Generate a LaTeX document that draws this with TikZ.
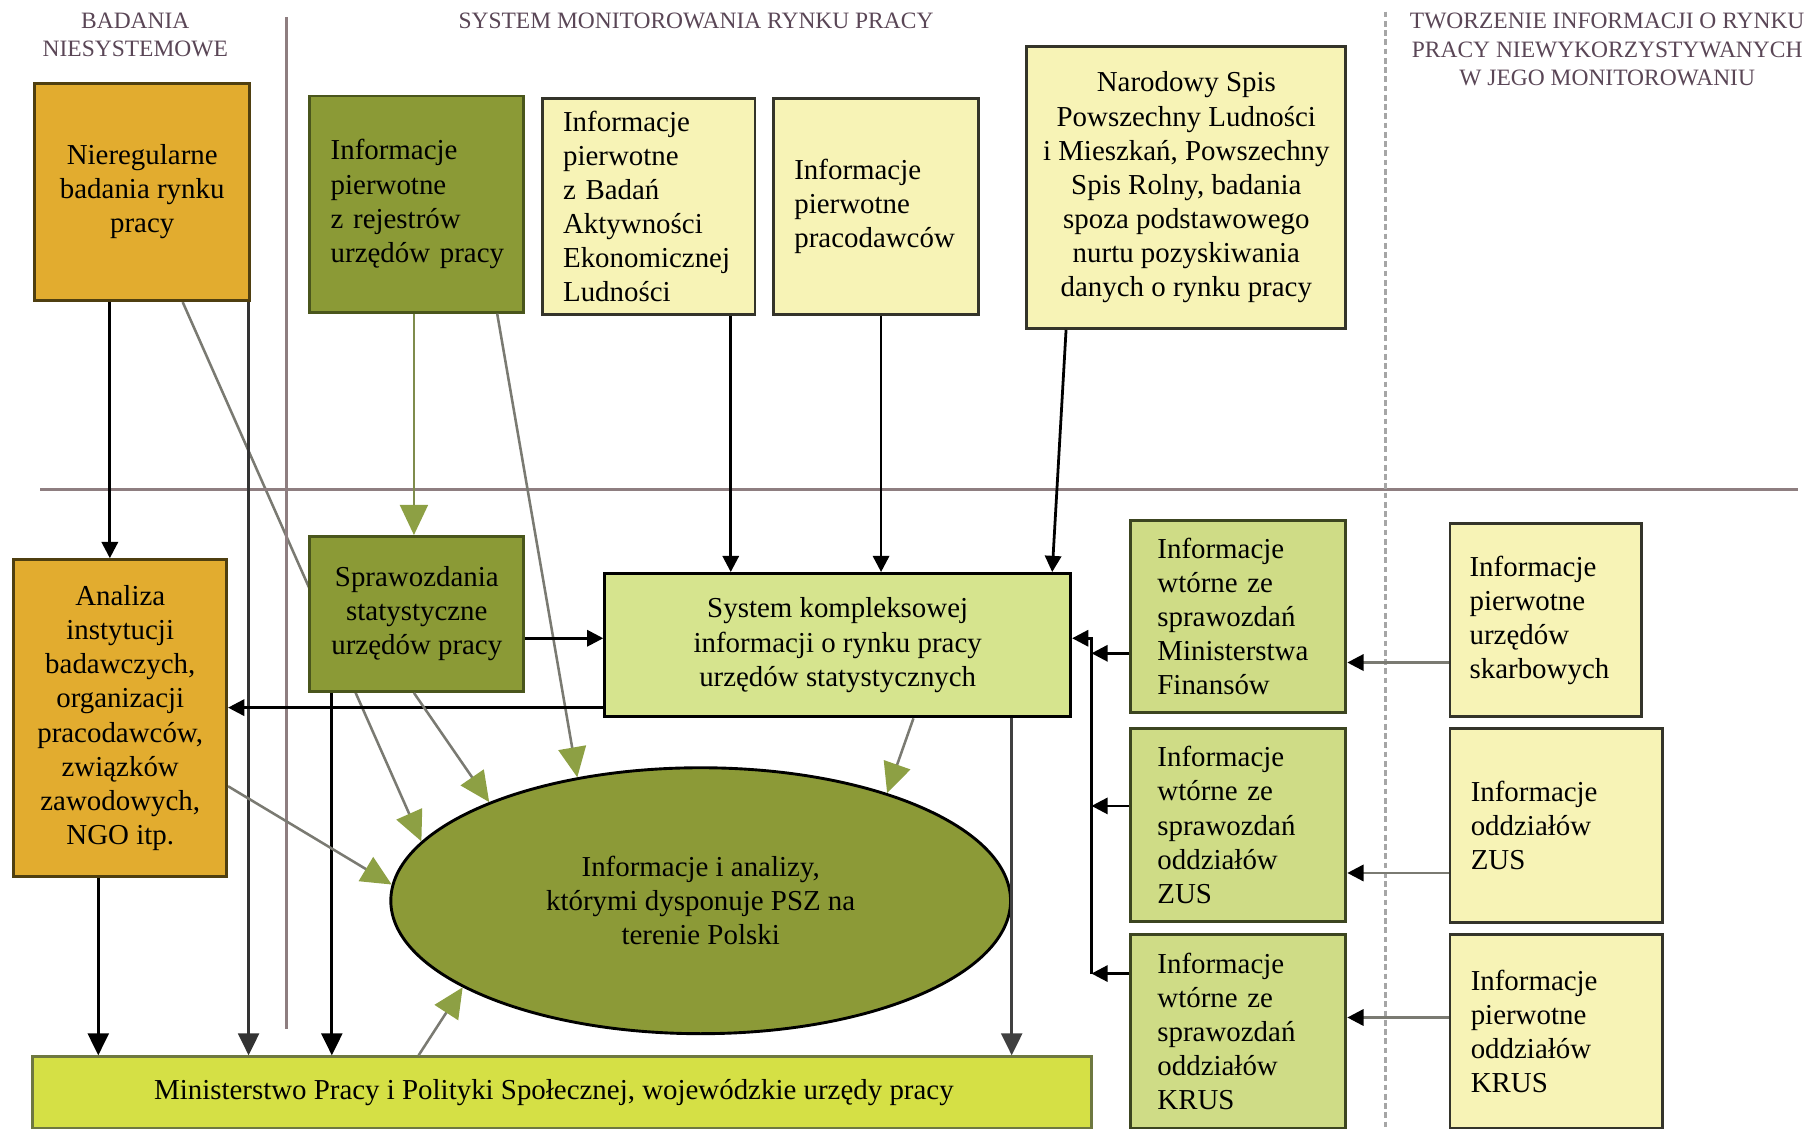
\documentclass[tikz,border=0pt]{standalone}
\usepackage{fontspec}
\setmainfont{Liberation Serif}
\usetikzlibrary{arrows.meta,shapes.geometric,backgrounds}
\definecolor{orangef}{HTML}{E2AC2F}
\definecolor{oranged}{HTML}{4F3F10}
\definecolor{olivef}{HTML}{8B9A36}
\definecolor{olived}{HTML}{4A561C}
\definecolor{palef}{HTML}{F7F3B6}
\definecolor{paled}{HTML}{34342A}
\definecolor{lgf}{HTML}{D6E48E}
\definecolor{wtf}{HTML}{CFDC86}
\definecolor{wtd}{HTML}{3C4520}
\definecolor{ellf}{HTML}{8C9A37}
\definecolor{barf}{HTML}{D5E045}
\definecolor{bard}{HTML}{6E7840}
\definecolor{headc}{HTML}{5A4656}
\definecolor{sepc}{HTML}{8E7E80}
\definecolor{linegray}{HTML}{7A7A72}
\definecolor{lineolive}{HTML}{7F8C4C}
\definecolor{tipgreen}{HTML}{8DA044}
\newcommand\mybxfont{\fontsize{25}{29.5}\selectfont}
\newcommand\myhdfont{\fontsize{20.3}{24.5}\selectfont}
\begin{document}
\begin{tikzpicture}[x=1pt,y=-1pt,
  box/.style={draw, line width=2.5pt, inner sep=0pt, font=\mybxfont, text=black},
  orangebox/.style={box, fill=orangef, draw=oranged},
  olivebox/.style={box, fill=olivef, draw=olived},
  palebox/.style={box, fill=palef, draw=paled},
  lgbox/.style={box, fill=lgf, draw=black},
  wtbox/.style={box, fill=wtf, draw=wtd},
  head/.style={font=\myhdfont, text=headc, align=center, inner sep=0pt},
  blk/.style={draw=black, line width=2.4pt, -{Triangle[length=14pt,width=14pt]}},
  blkbig/.style={draw=black, line width=2.4pt, -{Triangle[length=19pt,width=18pt]}},
  gryblk/.style={draw=linegray, line width=2.4pt, -{Triangle[length=14pt,width=14pt,color=black]}},
  grn/.style={draw=linegray, line width=2.2pt, -{Triangle[length=26pt,width=24pt,color=tipgreen]}},
  sep/.style={draw=sepc, line width=2.5pt}
]
\useasboundingbox (0,0) rectangle (1568,976);

% separators
\draw[sep] (35,423) -- (1555,423);
\draw[sep] (248,15) -- (248,890);
\draw[draw=gray!70, line width=2.5pt, dash pattern=on 5pt off 3pt] (1198,10) -- (1198,976);

% headings
\node[head] (h1) at (117,30) {BADANIA\\NIESYSTEMOWE};
\node[head] (h2) at (602,18) {SYSTEM MONITOROWANIA RYNKU PRACY};
\node[head] (h3) at (1390,43) {TWORZENIE INFORMACJI O RYNKU\\PRACY NIEWYKORZYSTYWANYCH\\W JEGO MONITOROWANIU};

% top row
\node[orangebox, minimum width=186pt, minimum height=188pt, align=center] (n1) at (123,166) {Nieregularne\\badania rynku\\pracy};
\node[olivebox, minimum width=185pt, minimum height=187pt, text width=149pt, align=left] (n2) at (360.5,176.5) {Informacje\\pierwotne\\z rejestrów\\\mbox{urzędów pracy}};
\node[palebox, minimum width=184pt, minimum height=187pt, text width=148pt, align=left] (n3) at (561,178.5) {Informacje\\pierwotne\\z Badań\\Aktywności\\Ekonomicznej\\Ludności};
\node[palebox, minimum width=177pt, minimum height=187pt, text width=141pt, align=left] (n4) at (757.5,178.5) {Informacje\\pierwotne\\pracodawców};
\node[palebox, minimum width=276pt, minimum height=244pt, align=center] (n5) at (1026,162) {Narodowy Spis\\Powszechny Ludności\\i Mieszkań, Powszechny\\Spis Rolny, badania\\spoza podstawowego\\nurtu pozyskiwania\\danych o rynku pracy};

% middle
\node[orangebox, minimum width=184pt, minimum height=274pt, align=center] (n6) at (104,621) {Analiza\\instytucji\\badawczych,\\organizacji\\pracodawców,\\związków\\zawodowych,\\NGO itp.};
\node[olivebox, minimum width=185pt, minimum height=134pt, align=center] (n7) at (360.5,531) {Sprawozdania\\statystyczne\\urzędów pracy};
\node[lgbox, minimum width=403pt, minimum height=124pt, align=center] (n8) at (724.5,558) {System kompleksowej\\informacji o rynku pracy\\urzędów statystycznych};

\node[wtbox, minimum width=186pt, minimum height=166pt, text width=140pt, align=left] (n9) at (1071,533) {Informacje\\wtórne ze\\sprawozdań\\Ministerstwa\\Finansów};
\node[wtbox, minimum width=186pt, minimum height=167pt, text width=140pt, align=left] (n10) at (1071,713.5) {Informacje\\wtórne ze\\sprawozdań\\oddziałów\\ZUS};
\node[wtbox, minimum width=186pt, minimum height=168pt, text width=140pt, align=left] (n11) at (1071,892) {Informacje\\wtórne ze\\sprawozdań\\oddziałów\\KRUS};

\node[palebox, minimum width=166pt, minimum height=167pt, text width=132pt, align=left] (n12) at (1337,536.5) {Informacje\\pierwotne\\urzędów\\skarbowych};
\node[palebox, minimum width=184pt, minimum height=168pt, text width=148pt, align=left] (n13) at (1346,714) {Informacje\\oddziałów\\ZUS};
\node[palebox, minimum width=184pt, minimum height=168pt, text width=148pt, align=left] (n14) at (1346,892) {Informacje\\pierwotne\\oddziałów\\KRUS};

\node[ellipse, draw=black, line width=2.5pt, fill=ellf, minimum width=536pt, minimum height=230pt, inner sep=0pt, font=\mybxfont, align=center] (el) at (606,779) {Informacje i analizy,\\którymi dysponuje PSZ na\\terenie Polski};

\node[box, fill=barf, draw=bard, minimum width=916pt, minimum height=62pt] (bar) at (486,945) {Ministerstwo Pracy i Polityki Społecznej, wojewódzkie urzędy pracy\hspace*{14pt}};

% connector points
\coordinate (a1) at ([xshift=-28pt]n1.south);
\coordinate (b1) at ([xshift=35pt]n1.south);
\coordinate (c1) at ([xshift=92pt]n1.south);
\coordinate (d1) at ([xshift=-2.5pt]n2.south);
\coordinate (e1) at ([xshift=69.5pt]n2.south);
\coordinate (f1) at ([xshift=71pt]n3.south);
\coordinate (g1) at ([xshift=4.5pt]n4.south);
\coordinate (h1s) at ([xshift=-104pt]n5.south);
\coordinate (h2e) at ([xshift=185.5pt]n8.north);
\coordinate (i1) at ([yshift=-21pt]n7.east);
\coordinate (j1) at ([yshift=-54pt]n8.west);
\coordinate (k1) at ([xshift=-2.5pt]n7.south);
\coordinate (l1) at ([xshift=-73.5pt]n7.south);
\coordinate (m1) at ([xshift=65.5pt]n8.south);
\coordinate (nn1) at ([xshift=150.5pt]n8.south);
\coordinate (o1) at ([yshift=-59pt]n6.east);
\coordinate (p1) at ([xshift=-19pt]n6.south);
\coordinate (q1) at ([xshift=-124pt]bar.north);
\coordinate (r1) at ([yshift=-36.5pt]n12.west);
\coordinate (s1) at ([yshift=-41pt]n13.west);
\coordinate (t1) at ([yshift=12pt]n14.west);
\coordinate (u1) at ([yshift=-32pt]n9.west);
\coordinate (v1) at ([yshift=16.5pt]n10.west);
\coordinate (w1) at ([yshift=50pt]n11.west);
\coordinate (bustop) at (944,552);
\coordinate (busbot) at (w1 -| bustop);

% line passing behind box n7
\begin{scope}[on background layer]
\draw[grn] (b1) -- (el.168);
\end{scope}

% connectors
\draw[blk] (a1) -- (a1 |- n6.north);
\draw[blkbig, draw=black!80] (c1) -- (c1 |- bar.north);
\draw[grn, draw=lineolive] (d1) -- (d1 |- n7.north);
\draw[grn] (e1) -- (el.135);
\draw[blk] (f1) -- (f1 |- n8.north);
\draw[blk] (g1) -- (g1 |- n8.north);
\draw[blk] (h1s) -- (h2e);
\draw[blk] (i1) -- (i1 -| n8.west);
\draw[blk] (j1) -- (j1 -| n6.east);
\draw[grn] (k1) -- (el.155);
\draw[blkbig] (l1) -- (l1 |- bar.north);
\draw[grn] (m1) -- (el.30);
\draw[blkbig, draw=black!75] (nn1) -- (nn1 |- bar.north);
\draw[grn] (o1) -- (el.177);
\draw[blkbig] (p1) -- (p1 |- bar.north);
\draw[grn] (q1) -- (el.200);

\draw[gryblk] (r1) -- (r1 -| n9.east);
\draw[gryblk] (s1) -- (s1 -| n10.east);
\draw[gryblk] (t1) -- (t1 -| n11.east);
\draw[blk] (u1) -- (u1 -| bustop);
\draw[blk] (v1) -- (v1 -| bustop);
\draw[blk] (w1) -- (busbot);
\draw[blk] (busbot) -- (bustop) -- (bustop -| n8.east);
\end{tikzpicture}
\end{document}
